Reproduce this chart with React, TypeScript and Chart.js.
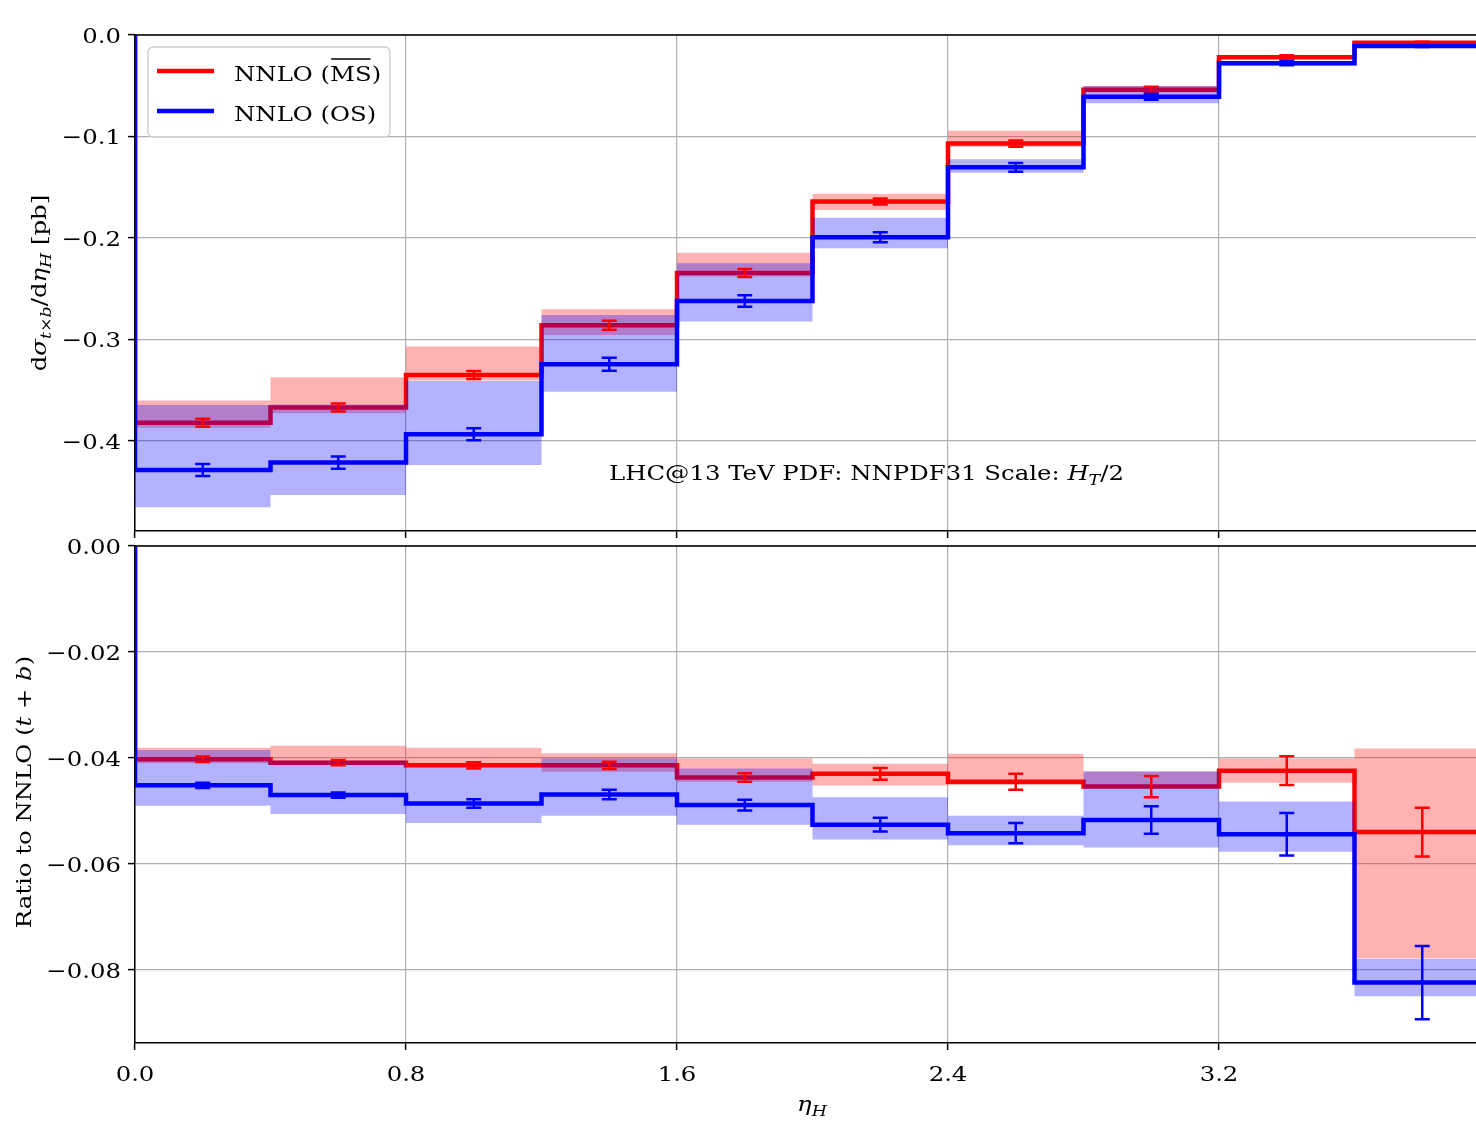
import React, { useEffect, useRef } from "react";
import { Chart, registerables } from "chart.js";

Chart.register(...registerables);

// ---------- data ----------
const binEdges = [0, 0.4, 0.8, 1.2, 1.6, 2.0, 2.4, 2.8, 3.2, 3.6, 4.0];

const xTickValues = [0, 0.8, 1.6, 2.4, 3.2];
const xTickLabels = ["0.0", "0.8", "1.6", "2.4", "3.2"];
const topYTickValues = [0, -0.1, -0.2, -0.3, -0.4];
const topYTickLabels = ["0.0", "\u22120.1", "\u22120.2", "\u22120.3", "\u22120.4"];
const ratioYTickValues = [0, -0.02, -0.04, -0.06, -0.08];
const ratioYTickLabels = ["0.00", "\u22120.02", "\u22120.04", "\u22120.06", "\u22120.08"];

// top panel: dsigma/deta [pb]
const msXsec = [-0.382, -0.367, -0.335, -0.286, -0.2345, -0.164, -0.107, -0.054, -0.022, -0.0076];
const msXsecErr = [0.004, 0.004, 0.004, 0.0044, 0.004, 0.003, 0.003, 0.003, 0.002, 0.001];
const msXsecLo = [-0.387, -0.3727, -0.3405, -0.2956, -0.238, -0.1724, -0.11, -0.0567, -0.0235, -0.0085];
const msXsecHi = [-0.36, -0.3373, -0.307, -0.2703, -0.2145, -0.1567, -0.0943, -0.0502, -0.0205, -0.0065];
const osXsec = [-0.4286, -0.4213, -0.3934, -0.3245, -0.2621, -0.1993, -0.1304, -0.0608, -0.0279, -0.0108];
const osXsecErr = [0.006, 0.006, 0.006, 0.0064, 0.0056, 0.005, 0.0043, 0.003, 0.002, 0.001];
const osXsecLo = [-0.4653, -0.4532, -0.4236, -0.3514, -0.2824, -0.2102, -0.1357, -0.0673, -0.030, -0.012];
const osXsecHi = [-0.3645, -0.364, -0.341, -0.2759, -0.225, -0.18, -0.1225, -0.0502, -0.026, -0.0095];

// bottom panel: ratio to NNLO (t+b)
const msRatio = [-0.04025, -0.0409, -0.0414, -0.0414, -0.0437, -0.043, -0.0445, -0.0454, -0.0424, -0.054];
const msRatioErr = [0.0005, 0.0005, 0.0006, 0.0007, 0.0008, 0.0011, 0.0015, 0.002, 0.0027, 0.0046];
const msRatioLo = [-0.041, -0.0413, -0.0418, -0.0426, -0.0445, -0.0452, -0.0451, -0.0458, -0.0447, -0.0778];
const msRatioHi = [-0.0381, -0.0377, -0.0381, -0.0391, -0.0401, -0.0411, -0.0392, -0.0426, -0.0401, -0.0382];
const osRatio = [-0.04516, -0.047, -0.0486, -0.0469, -0.0489, -0.0526, -0.0542, -0.0517, -0.0544, -0.0824];
const osRatioErr = [0.0005, 0.0005, 0.0008, 0.0009, 0.001, 0.0013, 0.0019, 0.0026, 0.004, 0.0069];
const osRatioLo = [-0.049, -0.0506, -0.0523, -0.0509, -0.0526, -0.0554, -0.0565, -0.0569, -0.0577, -0.085];
const osRatioHi = [-0.0385, -0.0405, -0.0418, -0.0401, -0.042, -0.0474, -0.0509, -0.0425, -0.0482, -0.0779];

const topYMin = -0.4887;
const ratioYMin = -0.0938;

// ---------- style ----------
const FONT = '"DejaVu Serif", serif';
const FS = 21;
const STRETCH = 1.16;
const RED = "#ff0000";
const BLUE = "#0000ff";
const RED_BAND = "rgba(255,0,0,0.3)";
const BLUE_BAND = "rgba(0,0,255,0.3)";
const LW = 4.5;

type Part = { t: string; i?: boolean; sub?: boolean; over?: boolean };

function stepPoints(vals: number[]) {
  const pts: { x: number; y: number }[] = [{ x: binEdges[0], y: 0 }];
  vals.forEach((v, i) => {
    pts.push({ x: binEdges[i], y: v });
    pts.push({ x: binEdges[i + 1], y: v });
  });
  pts.push({ x: binEdges[binEdges.length - 1], y: 0 });
  return pts;
}

function bandPoints(lo: number[], hi: number[]) {
  const pts: { x: number; y: number }[] = [];
  hi.forEach((v, i) => {
    pts.push({ x: binEdges[i], y: v });
    pts.push({ x: binEdges[i + 1], y: v });
  });
  for (let i = lo.length - 1; i >= 0; i--) {
    pts.push({ x: binEdges[i + 1], y: lo[i] });
    pts.push({ x: binEdges[i], y: lo[i] });
  }
  return pts;
}

function fontFor(p: Part, size: number) {
  const s = p.sub ? Math.round(size * 0.7) : size;
  return `${p.i ? "italic " : ""}${s}px ${FONT}`;
}

// draws mixed text, stretched along the reading direction
function drawRich(ctx: CanvasRenderingContext2D, parts: Part[], x: number, y: number, size: number, align: "left" | "center" | "right") {
  ctx.save();
  ctx.translate(x, y);
  ctx.scale(STRETCH, 1);
  ctx.textBaseline = "alphabetic";
  ctx.textAlign = "left";
  const widths = parts.map((p) => {
    ctx.font = fontFor(p, size);
    return ctx.measureText(p.t).width;
  });
  const total = widths.reduce((a, b) => a + b, 0);
  let cx = align === "center" ? -total / 2 : align === "right" ? -total : 0;
  parts.forEach((p, k) => {
    ctx.font = fontFor(p, size);
    const dy = p.sub ? size * 0.22 : 0;
    ctx.fillText(p.t, cx, dy);
    if (p.over) {
      ctx.save();
      ctx.strokeStyle = ctx.fillStyle as string;
      ctx.lineWidth = 1.4;
      ctx.beginPath();
      ctx.moveTo(cx + 1, -size * 1.05);
      ctx.lineTo(cx + widths[k] - 1, -size * 1.05);
      ctx.stroke();
      ctx.restore();
    }
    cx += widths[k];
  });
  ctx.restore();
}

function makeErrorBarPlugin(series: { vals: number[]; err: number[]; color: string }[]) {
  return {
    id: "errbars",
    afterDatasetsDraw(chart: any) {
      const { ctx, chartArea } = chart;
      const xs = chart.scales.x;
      const ys = chart.scales.y;
      ctx.save();
      ctx.beginPath();
      ctx.rect(chartArea.left, chartArea.top, chartArea.right - chartArea.left, chartArea.bottom - chartArea.top);
      ctx.clip();
      series.forEach((s) => {
        ctx.strokeStyle = s.color;
        ctx.lineWidth = 2.5;
        s.vals.forEach((v, i) => {
          const cx = xs.getPixelForValue((binEdges[i] + binEdges[i + 1]) / 2);
          const y1 = ys.getPixelForValue(v - s.err[i]);
          const y2 = ys.getPixelForValue(v + s.err[i]);
          ctx.beginPath();
          ctx.moveTo(cx, y1);
          ctx.lineTo(cx, y2);
          ctx.moveTo(cx - 7.5, y1);
          ctx.lineTo(cx + 7.5, y1);
          ctx.moveTo(cx - 7.5, y2);
          ctx.lineTo(cx + 7.5, y2);
          ctx.stroke();
        });
      });
      ctx.restore();
    },
  };
}

function makeDecorPlugin(isTop: boolean, offsetY: number, yTicks: number[], yLabels: string[]) {
  return {
    id: "decor",
    afterDraw(chart: any) {
      const { ctx, chartArea } = chart;
      const xs = chart.scales.x;
      const ys = chart.scales.y;
      ctx.save();
      // top and right spines
      ctx.strokeStyle = "#000";
      ctx.lineWidth = 1.5;
      ctx.beginPath();
      ctx.moveTo(chartArea.left, chartArea.top);
      ctx.lineTo(chartArea.right, chartArea.top);
      ctx.moveTo(chartArea.right, chartArea.top);
      ctx.lineTo(chartArea.right, chartArea.bottom);
      ctx.stroke();
      ctx.fillStyle = "#000";

      // tick labels
      yTicks.forEach((v, i) => {
        const py = ys.getPixelForValue(v);
        drawRich(ctx, [{ t: yLabels[i] }], chartArea.left - 14, py + 8, FS, "right");
      });
      if (!isTop) {
        xTickValues.forEach((v, i) => {
          const px = xs.getPixelForValue(v);
          drawRich(ctx, [{ t: xTickLabels[i] }], px, chartArea.bottom + 37.5, FS, "center");
        });
      }

      if (isTop) {
        // legend
        const bx = 148, by = 47, bw = 242, bh = 90, r = 5;
        ctx.beginPath();
        ctx.moveTo(bx + r, by);
        ctx.arcTo(bx + bw, by, bx + bw, by + bh, r);
        ctx.arcTo(bx + bw, by + bh, bx, by + bh, r);
        ctx.arcTo(bx, by + bh, bx, by, r);
        ctx.arcTo(bx, by, bx + bw, by, r);
        ctx.closePath();
        ctx.fillStyle = "rgba(255,255,255,0.8)";
        ctx.fill();
        ctx.strokeStyle = "#cccccc";
        ctx.lineWidth = 1.3;
        ctx.stroke();
        ctx.lineWidth = LW;
        ctx.strokeStyle = RED;
        ctx.beginPath();
        ctx.moveTo(157, 71);
        ctx.lineTo(214, 71);
        ctx.stroke();
        ctx.strokeStyle = BLUE;
        ctx.beginPath();
        ctx.moveTo(157, 111);
        ctx.lineTo(214, 111);
        ctx.stroke();
        ctx.fillStyle = "#000";
        drawRich(ctx, [{ t: "NNLO (" }, { t: "MS", over: true }, { t: ")" }], 234, 81, FS, "left");
        drawRich(ctx, [{ t: "NNLO (OS)" }], 234, 121, FS, "left");
        // annotation
        drawRich(ctx, [{ t: "LHC@13 TeV PDF: NNPDF31 Scale: " }, { t: "H", i: true }, { t: "T", i: true, sub: true }, { t: "/2" }], 609, 480, FS, "left");
        // y title
        ctx.save();
        ctx.translate(46, 283 - offsetY);
        ctx.rotate(-Math.PI / 2);
        drawRich(
          ctx,
          [
            { t: "d" },
            { t: "\u03c3", i: true },
            { t: "t", i: true, sub: true },
            { t: "\u00d7", sub: true },
            { t: "b", i: true, sub: true },
            { t: "/d" },
            { t: "\u03b7", i: true },
            { t: "H", i: true, sub: true },
            { t: " [pb]" },
          ],
          0,
          0,
          FS,
          "center"
        );
        ctx.restore();
      } else {
        ctx.save();
        ctx.translate(31, 792 - offsetY);
        ctx.rotate(-Math.PI / 2);
        drawRich(ctx, [{ t: "Ratio to NNLO (" }, { t: "t", i: true }, { t: " + " }, { t: "b", i: true }, { t: ")" }], 0, 0, FS, "center");
        ctx.restore();
        drawRich(ctx, [{ t: "\u03b7", i: true }, { t: "H", i: true, sub: true }], 812, 1111 - offsetY, FS, "center");
      }
      ctx.restore();
    },
  };
}

function makeConfig(isTop: boolean, offsetY: number): any {
  const ms = isTop ? msXsec : msRatio;
  const msErr = isTop ? msXsecErr : msRatioErr;
  const msLo = isTop ? msXsecLo : msRatioLo;
  const msHi = isTop ? msXsecHi : msRatioHi;
  const os = isTop ? osXsec : osRatio;
  const osErr = isTop ? osXsecErr : osRatioErr;
  const osLo = isTop ? osXsecLo : osRatioLo;
  const osHi = isTop ? osXsecHi : osRatioHi;
  const yTicks = isTop ? topYTickValues : ratioYTickValues;
  const yLabels = isTop ? topYTickLabels : ratioYTickLabels;

  const grid = {
    color: "#b0b0b0",
    lineWidth: 1.2,
    drawTicks: true,
    tickLength: 7,
    tickColor: "#000",
    tickWidth: 1.5,
  };
  const border = { display: true, color: "#000", width: 1.5 };

  return {
    type: "line",
    data: {
      datasets: [
        { label: "MS band", data: bandPoints(msLo, msHi), borderColor: "transparent", borderWidth: 0, backgroundColor: RED_BAND, fill: "shape", pointRadius: 0, tension: 0, order: 5 },
        { label: "NNLO (MS)", data: stepPoints(ms), borderColor: RED, borderWidth: LW, fill: false, pointRadius: 0, tension: 0, order: 4 },
        { label: "OS band", data: bandPoints(osLo, osHi), borderColor: "transparent", borderWidth: 0, backgroundColor: BLUE_BAND, fill: "shape", pointRadius: 0, tension: 0, order: 3 },
        { label: "NNLO (OS)", data: stepPoints(os), borderColor: BLUE, borderWidth: LW, fill: false, pointRadius: 0, tension: 0, order: 2 },
      ],
    },
    options: {
      responsive: false,
      animation: false,
      events: [],
      layout: { padding: { top: isTop ? 35 : 30, right: 10, left: 0, bottom: 0 } },
      plugins: { legend: { display: false }, tooltip: { enabled: false } },
      scales: {
        x: {
          type: "linear",
          min: 0,
          max: 4,
          afterBuildTicks: (s: any) => {
            s.ticks = xTickValues.map((v) => ({ value: v }));
          },
          afterFit: (s: any) => {
            s.height = isTop ? 29 : 78;
          },
          ticks: {
            display: false,
            autoSkip: false,
            callback: (_v: any, i: number) => xTickLabels[i],
          },
          grid,
          border,
        },
        y: {
          type: "linear",
          min: isTop ? topYMin : ratioYMin,
          max: 0,
          afterBuildTicks: (s: any) => {
            s.ticks = yTicks.map((v) => ({ value: v }));
          },
          afterFit: (s: any) => {
            s.width = 135;
          },
          ticks: {
            display: false,
            autoSkip: false,
            callback: (_v: any, i: number) => yLabels[i],
          },
          grid,
          border,
        },
      },
    },
    plugins: [
      makeErrorBarPlugin([
        { vals: ms, err: msErr, color: RED },
        { vals: os, err: osErr, color: BLUE },
      ]),
      makeDecorPlugin(isTop, offsetY, yTicks, yLabels),
    ],
  };
}

const TOP_OFFSET = 0;
const BOTTOM_OFFSET = 516;

export default function App() {
  const topRef = useRef<HTMLCanvasElement>(null);
  const botRef = useRef<HTMLCanvasElement>(null);

  useEffect(() => {
    document.body.style.margin = "0";
    document.body.style.background = "#ffffff";
    const top = new Chart(topRef.current as HTMLCanvasElement, makeConfig(true, TOP_OFFSET));
    const bot = new Chart(botRef.current as HTMLCanvasElement, makeConfig(false, BOTTOM_OFFSET));
    return () => {
      top.destroy();
      bot.destroy();
    };
  }, []);

  return (
    <div style={{ position: "relative", width: 1476, height: 1121, overflow: "hidden", background: "#fff" }}>
      <canvas ref={topRef} width={1500} height={560} style={{ position: "absolute", left: 0, top: TOP_OFFSET }} />
      <canvas ref={botRef} width={1500} height={605} style={{ position: "absolute", left: 0, top: BOTTOM_OFFSET }} />
    </div>
  );
}
